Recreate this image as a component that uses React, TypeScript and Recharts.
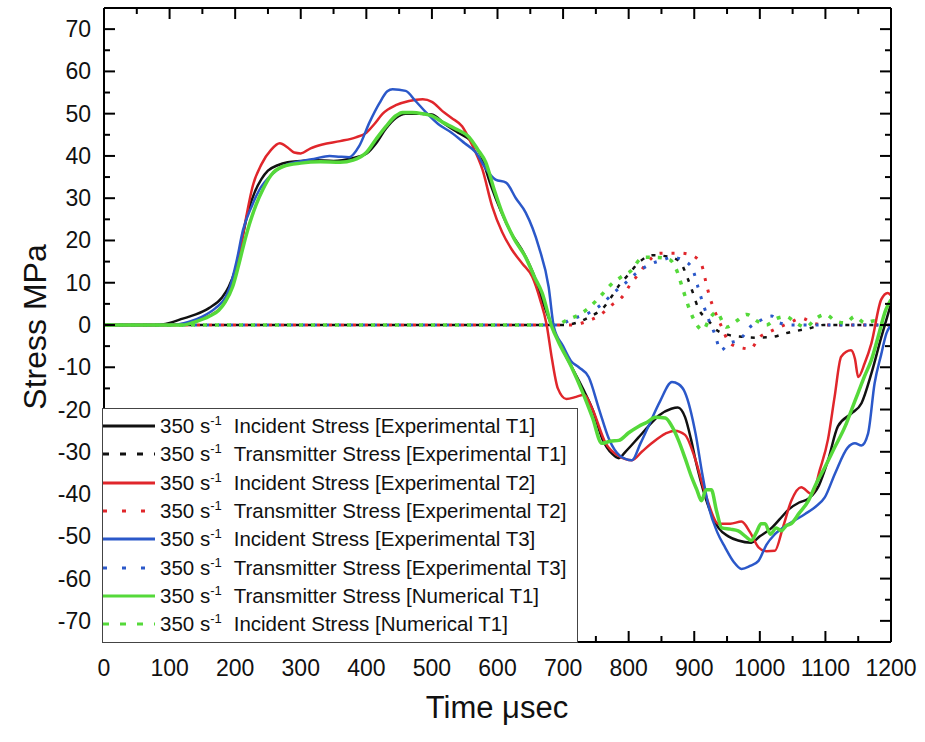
import React from "react";
import { LineChart, Line, XAxis, YAxis, Legend } from "recharts";

const W = 925;
const H = 742;

const BLACK = "#111111";
const RED = "#e0262b";
const BLUE = "#2b58c9";
const GREEN = "#55d93a";

// tick positions (major every 100 / 10, minor in between)
const xTicks = [0, 50, 100, 150, 200, 250, 300, 350, 400, 450, 500, 550, 600, 650, 700, 750, 800, 850, 900, 950, 1000, 1050, 1100, 1150, 1200];
const yTicks = [-75, -70, -65, -60, -55, -50, -45, -40, -35, -30, -25, -20, -15, -10, -5, 0, 5, 10, 15, 20, 25, 30, 35, 40, 45, 50, 55, 60, 65, 70, 75];

// Incident stress, experimental T1 (black solid)
const incT1Time = [0, 80, 100, 120, 140, 160, 180, 190, 200, 210, 220, 230, 240, 250, 265, 280, 300, 320, 350, 380, 400, 415, 430, 445, 460, 480, 500, 520, 540, 560, 575, 590, 605, 620, 640, 655, 670, 685, 700, 715, 730, 745, 760, 775, 785, 795, 815, 830, 846, 865, 875, 886, 895, 902, 917, 937, 952, 967, 987, 1000, 1018, 1030, 1045, 1060, 1075, 1090, 1104, 1119, 1139, 1155, 1170, 1185, 1200];
const incT1Stress = [0, 0, 0.5, 1.5, 2.5, 4, 6.5, 9, 13, 20, 27, 31.5, 34.5, 36.5, 37.8, 38.5, 38.8, 39, 38.8, 39.5, 40.5, 43, 46.5, 49, 50, 50, 49.8, 47.5, 45.5, 43.5, 40, 33, 27, 22, 17, 12, 5, -1, -6, -10.5, -15, -20, -27, -30.5, -31.5, -30, -26.6, -24, -21.4, -19.8, -19.5, -21.8, -27, -32, -40.8, -48, -50, -51, -51.5, -50, -48, -46, -43.5, -42, -41, -38, -32, -24, -21, -18.5, -11.5, -3, 5];

// Transmitter stress, experimental T1 (black dashed)
const trT1Time = [0, 700, 720, 741, 761, 773, 786, 800, 817, 837, 860, 878, 890, 898, 906, 921, 934, 954, 974, 993, 1020, 1038, 1056, 1075, 1097, 1200];
const trT1Stress = [0, 0, 0.5, 2, 4, 6.5, 9.5, 12, 15, 16.5, 16.2, 15, 11, 7.6, 4, 1.2, -1.2, -2.4, -2.8, -3, -2.8, -2, -1.4, -0.8, 0, 0];

// Incident stress, experimental T2 (red solid)
const incT2Time = [0, 100, 130, 150, 170, 185, 195, 205, 215, 227, 240, 255, 268, 280, 290, 300, 315, 333, 360, 384, 400, 412, 425, 445, 465, 486, 500, 516, 530, 546, 560, 577, 592, 607, 622, 638, 653, 665, 675, 683, 692, 705, 720, 732, 745, 765, 785, 805, 820, 835, 856, 870, 886, 900, 917, 937, 955, 972, 985, 998, 1010, 1023, 1035, 1048, 1063, 1079, 1092, 1104, 1114, 1124, 1139, 1145, 1150, 1160, 1170, 1185, 1195, 1200];
const incT2Stress = [0, 0, 0.5, 1.5, 3, 5.5, 9, 15, 24, 33, 38, 41.5, 43, 42, 40.8, 40.6, 41.8, 42.7, 43.5, 44.4, 45.5, 47.5, 50, 52, 53, 53.4, 52.8, 50.6, 49, 47, 43, 36.8, 28, 22, 17.8, 14.5, 11.4, 6, 0, -8, -15, -17.5, -17, -16.5, -20, -28, -31, -32, -30, -28, -25.7, -25, -26, -31, -40, -47, -47, -46.5, -49, -52.6, -53.5, -53.4, -48, -41.6, -38.4, -40, -34, -27, -17, -7.5, -6, -8, -12.3, -9, -4.4, 6, 7.6, 7];

// Transmitter stress, experimental T2 (red dotted)
const trT2Time = [0, 716, 735, 757, 774, 792, 802, 815, 828, 848, 878, 896, 911, 918, 924, 932, 942, 951, 962, 975, 985, 1000, 1015, 1030, 1045, 1064, 1080, 1100, 1200];
const trT2Stress = [0, 0, 0.8, 2.4, 4.7, 7, 9.5, 12, 14.7, 17, 17, 16.5, 14.3, 10, 6.4, 3, -0.5, -3.6, -5, -5.5, -5.7, -2.8, -1.6, -0.5, 0.5, 1.6, 0.5, 0, 0];

// Incident stress, experimental T3 (blue solid)
const incT3Time = [0, 100, 130, 150, 170, 185, 192, 202, 212, 225, 237, 255, 272, 298, 320, 344, 360, 374, 389, 405, 420, 432, 440, 460, 475, 491, 510, 530, 550, 567, 582, 597, 613, 628, 643, 663, 678, 686, 700, 712, 724, 739, 755, 770, 787, 805, 818, 830, 848, 866, 876, 886, 902, 912, 922, 935, 947, 960, 972, 985, 998, 1010, 1023, 1045, 1069, 1085, 1099, 1115, 1134, 1145, 1155, 1165, 1175, 1185, 1193, 1200];
const incT3Stress = [0, 0, 0.8, 2, 4, 6.5, 9, 15, 22.5, 28, 32, 35.5, 37.5, 38.7, 39.3, 40, 39.8, 39.7, 42.3, 48, 52.5, 55.3, 55.8, 55.4, 53, 50.3, 47.5, 45.5, 43, 40.8, 37, 34.4, 33.7, 30, 26.6, 18.5, 9, -0.5, -5, -8.5, -10, -12.3, -20, -27, -31, -32, -28, -24, -18, -13.5, -14, -16, -25.7, -35, -43, -49, -52.6, -56, -57.7, -57, -55.8, -52, -49.5, -47, -44.7, -43, -40.8, -35, -29, -28, -28.5, -25.7, -13.8, -7, -2, 0];

// Transmitter stress, experimental T3 (blue dotted)
const trT3Time = [0, 695, 710, 741, 761, 776, 792, 812, 832, 852, 867, 887, 898, 906, 913, 921, 932, 940, 954, 969, 985, 1000, 1018, 1030, 1050, 1200];
const trT3Stress = [0, 0, 1.2, 3, 5.2, 7.5, 9.5, 12.3, 14.3, 15.4, 16, 15, 13, 8.8, 5.2, 1.7, -2.4, -6, -4.3, -3.5, -0.5, 1, 2.1, 0.5, 0, 0];

// Numerical T1, solid green
const numSolidTime = [0, 120, 140, 160, 175, 185, 196, 205, 213, 222, 232, 242, 255, 273, 300, 330, 360, 380, 400, 415, 430, 445, 455, 470, 486, 500, 516, 535, 557, 570, 582, 595, 607, 625, 643, 656, 668, 683, 693, 713, 730, 745, 759, 772, 785, 800, 815, 828, 841, 856, 866, 876, 886, 896, 904, 911, 918, 926, 934, 942, 955, 967, 978, 987, 995, 1002, 1008, 1016, 1025, 1033, 1040, 1048, 1060, 1074, 1086, 1099, 1114, 1130, 1140, 1150, 1160, 1170, 1180, 1192, 1200];
const numSolidStress = [0, 0, 0.8, 2, 3.5, 5.5, 9, 14, 19, 24, 28.5, 32, 35.5, 37.5, 38.3, 38.6, 38.5, 39, 40.8, 44, 47, 49.5, 50.3, 50.3, 50, 49.5, 48, 46.5, 44.4, 41.5, 38.5, 32, 26.6, 20.5, 16, 11.5, 7.6, -0.5, -4, -10, -16, -22, -28, -27.5, -27.3, -25.5, -24, -23, -21.8, -22, -24, -27.3, -31.5, -36, -39, -41.6, -39, -39, -44, -48, -48.3, -48.7, -50, -51, -49, -47, -47, -49.5, -48, -48.7, -47.5, -47, -44.5, -41.6, -37.5, -33.7, -29, -24, -20, -16, -12, -8.3, -3, 3.6, 6];

// Numerical T1, dotted green
const numDotTime = [0, 690, 706, 725, 741, 758, 776, 790, 802, 822, 843, 863, 873, 883, 893, 904, 913, 924, 934, 949, 965, 980, 995, 1010, 1025, 1040, 1055, 1070, 1085, 1100, 1115, 1130, 1145, 1160, 1175, 1190, 1200];
const numDotStress = [0, 0, 1.2, 2.5, 4.3, 7, 10, 11.5, 12.6, 16, 16, 15.4, 13, 8.3, 3.6, 0, -1.2, 1.7, 3, -0.5, 1, 2.5, 1, 0, 1.5, 2, 0.5, -0.5, 1.5, 2.5, 1, 0.5, 2, 0.5, 1, 0, 0];

const toPoints = (time: number[], stress: number[]) =>
  time.map((t, i) => ({ t, v: stress[i] }));

// legend order as in the figure
const series = [
  { id: "incT1", label: "Incident Stress [Experimental T1]", color: BLACK, time: incT1Time, stress: incT1Stress, width: 2.5, dash: undefined, offset: 0, legendDash: undefined },
  { id: "trT1", label: "Transmitter Stress [Experimental T1]", color: BLACK, time: trT1Time, stress: trT1Stress, width: 2.5, dash: "4 8", offset: 0, legendDash: "6 11" },
  { id: "incT2", label: "Incident Stress [Experimental T2]", color: RED, time: incT2Time, stress: incT2Stress, width: 2.5, dash: undefined, offset: 0, legendDash: undefined },
  { id: "trT2", label: "Transmitter Stress [Experimental T2]", color: RED, time: trT2Time, stress: trT2Stress, width: 3, dash: "3 9", offset: 3, legendDash: "4 15" },
  { id: "incT3", label: "Incident Stress [Experimental T3]", color: BLUE, time: incT3Time, stress: incT3Stress, width: 2.5, dash: undefined, offset: 0, legendDash: undefined },
  { id: "trT3", label: "Transmitter Stress [Experimental T3]", color: BLUE, time: trT3Time, stress: trT3Stress, width: 3, dash: "3 9", offset: 6, legendDash: "4 15" },
  { id: "numSolid", label: "Transmitter Stress [Numerical T1]", color: GREEN, time: numSolidTime, stress: numSolidStress, width: 3.5, dash: undefined, offset: 0, legendDash: undefined },
  { id: "numDot", label: "Incident Stress [Numerical T1]", color: GREEN, time: numDotTime, stress: numDotStress, width: 3.5, dash: "4 8", offset: 9, legendDash: "6 11" },
];

// dotted series drawn first so the solid curves sit on top
const drawOrder = [...series.filter((s) => s.dash), ...series.filter((s) => !s.dash)];

const FONT = '"Liberation Sans", Arial, sans-serif';

const BottomTick = (props: any) => {
  const { x, y, payload } = props;
  const major = payload.value % 100 === 0;
  return (
    <g>
      <line x1={x} x2={x} y1={y} y2={y - (major ? 11 : 6)} stroke="#000" strokeWidth={2} />
      {major && (
        <text x={x} y={y + 34} textAnchor="middle" fontSize={23} fontFamily={FONT} fill="#111">
          {payload.value}
        </text>
      )}
    </g>
  );
};

const TopTick = (props: any) => {
  const { x, y, payload } = props;
  const major = payload.value % 100 === 0;
  return <line x1={x} x2={x} y1={y} y2={y + (major ? 11 : 6)} stroke="#000" strokeWidth={2} />;
};

const LeftTick = (props: any) => {
  const { x, y, payload } = props;
  const major = payload.value % 10 === 0;
  return (
    <g>
      <line x1={x} x2={x + (major ? 11 : 6)} y1={y} y2={y} stroke="#000" strokeWidth={2} />
      {major && (
        <text x={x - 13} y={y + 8} textAnchor="end" fontSize={23} fontFamily={FONT} fill="#111">
          {payload.value}
        </text>
      )}
    </g>
  );
};

const RightTick = (props: any) => {
  const { x, y, payload } = props;
  const major = payload.value % 10 === 0;
  return <line x1={x} x2={x - (major ? 11 : 6)} y1={y} y2={y} stroke="#000" strokeWidth={2} />;
};

const LegendBox = () => (
  <div
    style={{
      boxSizing: "border-box",
      width: 476,
      height: 235,
      border: "1.5px solid #444",
      background: "#fff",
      paddingTop: 3,
      fontFamily: FONT,
      fontSize: 20.5,
      color: "#111",
    }}
  >
    {series.map((s) => (
      <div key={s.id} style={{ height: 28.3, display: "flex", alignItems: "center", whiteSpace: "nowrap" }}>
        <svg width={52} height={10} style={{ flex: "none" }}>
          <line x1={0} x2={52} y1={5} y2={5} stroke={s.color} strokeWidth={3} strokeDasharray={s.legendDash} />
        </svg>
        <span style={{ marginLeft: 5 }}>
          350 s<span style={{ fontSize: 13, position: "relative", top: -8 }}>-1</span>
        </span>
        <span style={{ marginLeft: 12 }}>{s.label}</span>
      </div>
    ))}
  </div>
);

export default function App() {
  return (
    <div style={{ position: "absolute", left: 0, top: 0, width: W, height: H, background: "#fff" }}>
      <LineChart width={W} height={H} margin={{ top: 7, right: 33, bottom: 40, left: 44 }}>
        <XAxis
          dataKey="t"
          type="number"
          domain={[0, 1200]}
          ticks={xTicks}
          interval={0}
          height={60}
          tickSize={0}
          tickMargin={0}
          tickLine={false}
          tick={<BottomTick />}
          axisLine={{ stroke: "#000", strokeWidth: 2 }}
          allowDataOverflow
        />
        <XAxis
          xAxisId="top"
          orientation="top"
          dataKey="t"
          type="number"
          domain={[0, 1200]}
          ticks={xTicks}
          interval={0}
          height={1}
          tickSize={0}
          tickMargin={0}
          tickLine={false}
          tick={<TopTick />}
          axisLine={{ stroke: "#000", strokeWidth: 2 }}
          allowDataOverflow
        />
        <YAxis
          type="number"
          domain={[-75, 75]}
          ticks={yTicks}
          interval={0}
          width={60}
          tickSize={0}
          tickMargin={0}
          tickLine={false}
          tick={<LeftTick />}
          axisLine={{ stroke: "#000", strokeWidth: 2 }}
          allowDataOverflow
        />
        <YAxis
          yAxisId="right"
          orientation="right"
          type="number"
          domain={[-75, 75]}
          ticks={yTicks}
          interval={0}
          width={1}
          tickSize={0}
          tickMargin={0}
          tickLine={false}
          tick={<RightTick />}
          axisLine={{ stroke: "#000", strokeWidth: 2 }}
          allowDataOverflow
        />
        {/* invisible series tied to the top/right frame axes so they are drawn */}
        <Line
          xAxisId="top"
          yAxisId="right"
          data={toPoints(numSolidTime, numSolidStress)}
          dataKey="v"
          stroke="none"
          dot={false}
          activeDot={false}
          legendType="none"
          isAnimationActive={false}
        />
        {drawOrder.map((s) => (
          <Line
            key={s.id}
            data={toPoints(s.time, s.stress)}
            dataKey="v"
            name={s.label}
            type="monotone"
            stroke={s.color}
            strokeWidth={s.width}
            strokeDasharray={s.dash}
            strokeDashoffset={s.offset}
            strokeLinecap="butt"
            dot={false}
            activeDot={false}
            isAnimationActive={false}
          />
        ))}
        <Legend
          layout="vertical"
          align="center"
          verticalAlign="middle"
          content={() => <LegendBox />}
          wrapperStyle={{ left: 102, top: 408, width: 476, height: 235 }}
        />
      </LineChart>
      <div
        style={{
          position: "absolute",
          left: 35,
          top: 327,
          transform: "translate(-50%, -50%) rotate(-90deg)",
          fontFamily: FONT,
          fontSize: 32,
          whiteSpace: "nowrap",
          color: "#111",
        }}
      >
        Stress MPa
      </div>
      <div
        style={{
          position: "absolute",
          left: 497,
          top: 692,
          transform: "translateX(-50%)",
          fontFamily: FONT,
          fontSize: 31,
          lineHeight: "31px",
          whiteSpace: "nowrap",
          color: "#111",
        }}
      >
        Time μsec
      </div>
    </div>
  );
}
